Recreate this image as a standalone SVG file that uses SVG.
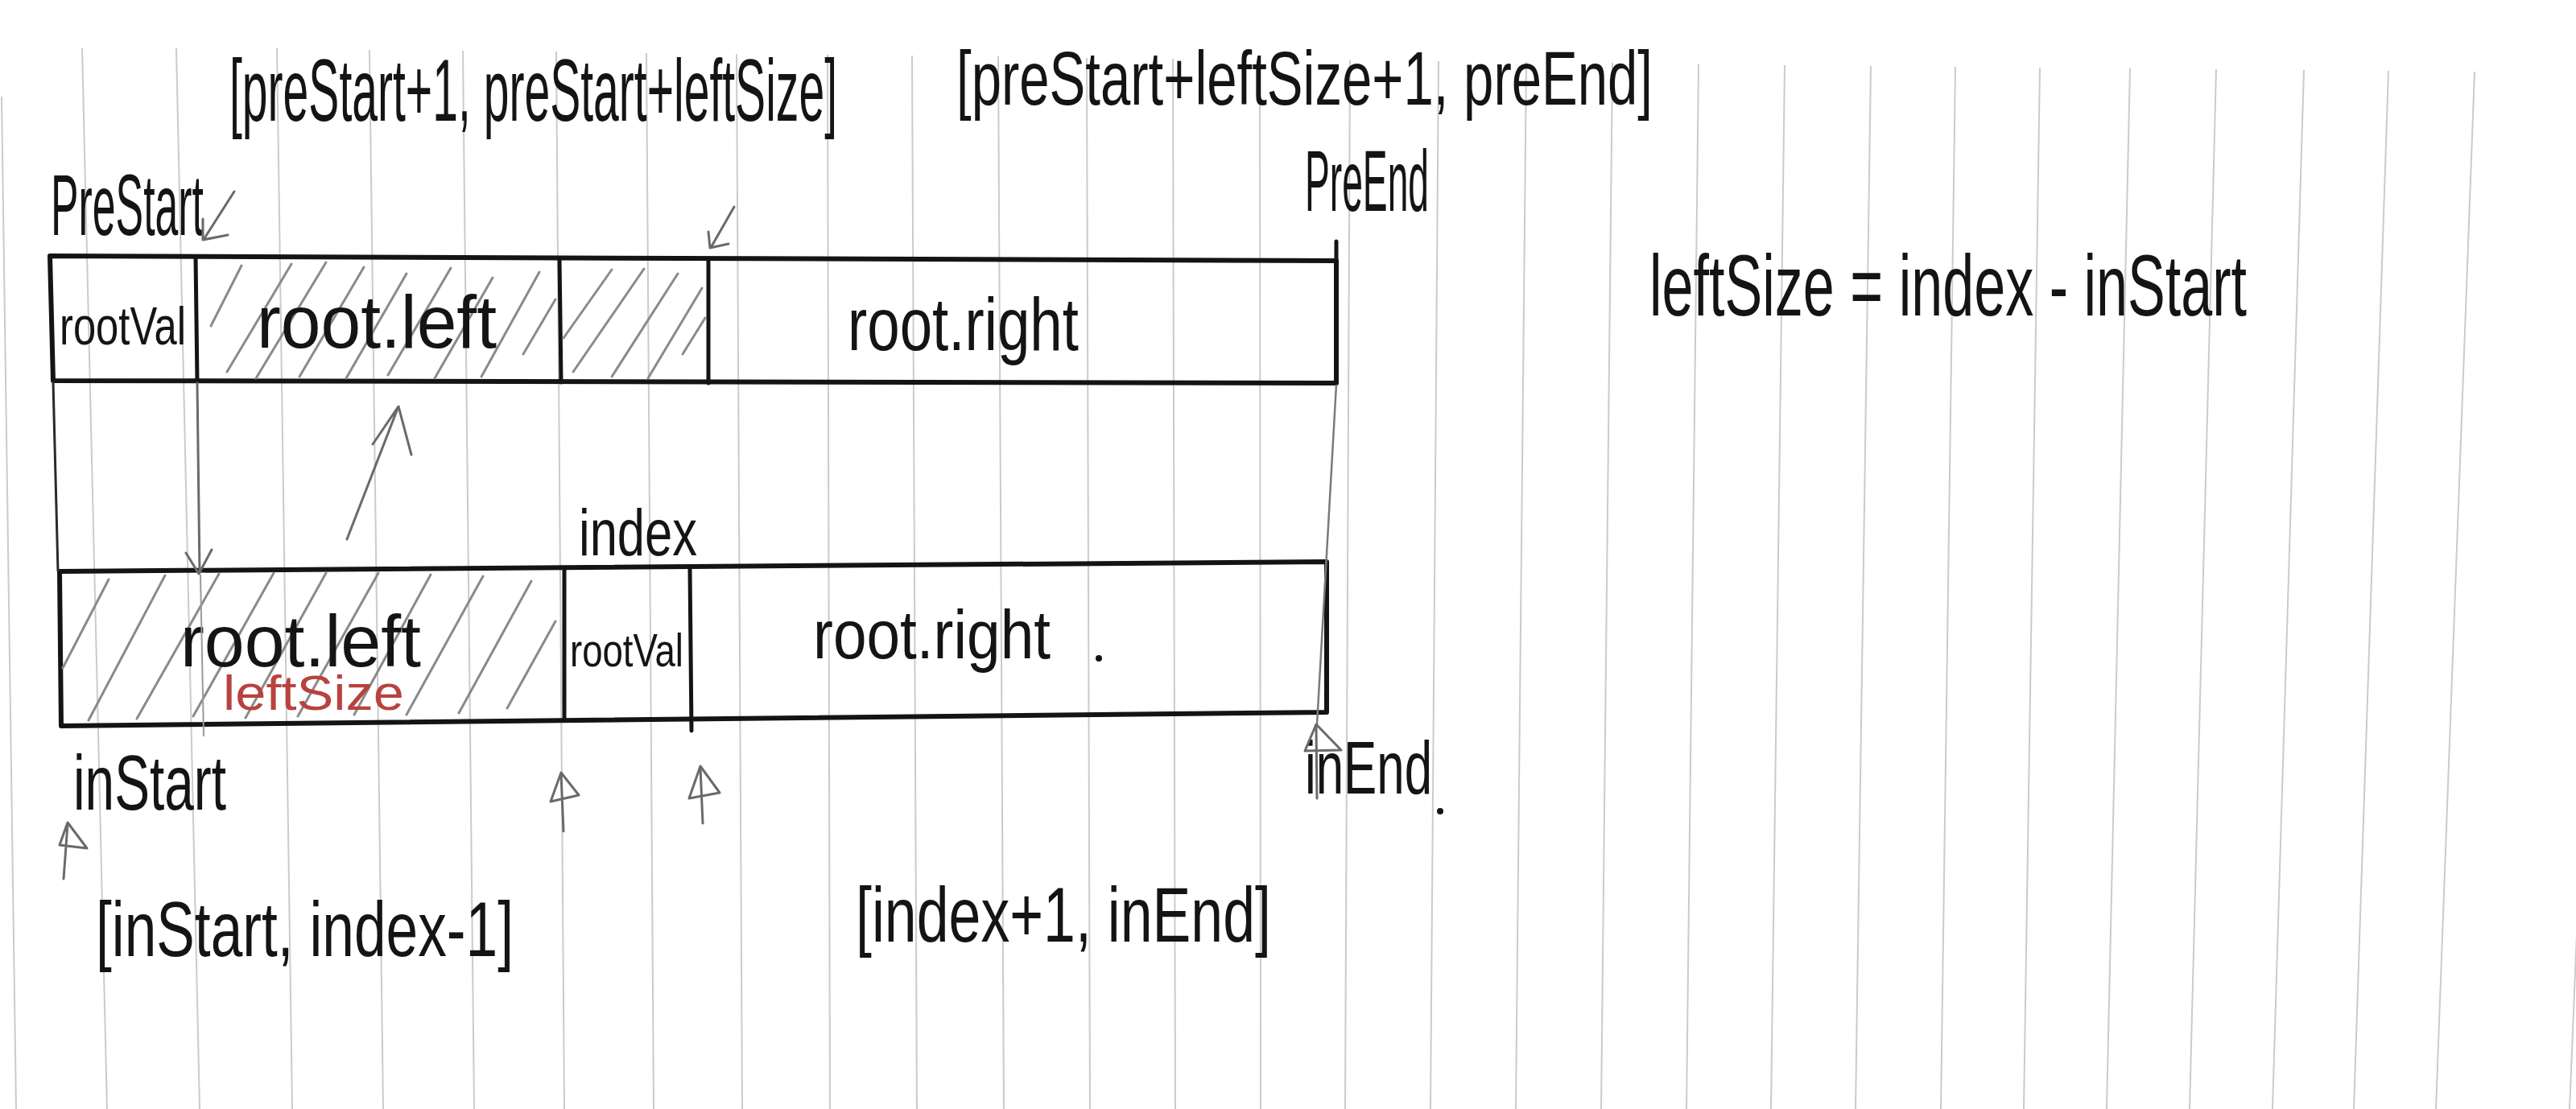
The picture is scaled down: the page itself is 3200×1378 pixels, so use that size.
<svg xmlns="http://www.w3.org/2000/svg" width="3200" height="1378" viewBox="0 0 3200 1378">
<style>
.paper{stroke:#cbcbcb;stroke-width:2;fill:none}
.box{fill:none;stroke:#141414;stroke-width:6;stroke-linejoin:round;stroke-linecap:round}
.div{stroke:#141414;stroke-width:5;stroke-linecap:round}
.hatch{stroke:#8a8a8a;stroke-width:3;stroke-linecap:round;fill:none}
.pencil{stroke:#6a6a6a;stroke-width:3;stroke-linecap:round;stroke-linejoin:round;fill:none}
.ink{fill:#141414;font-family:"Liberation Sans Narrow","Liberation Sans",Arial,sans-serif}
.red{fill:#b8423f;font-family:"Liberation Sans Narrow","Liberation Sans",Arial,sans-serif}
</style>
<rect x="0" y="0" width="3200" height="1378" fill="#ffffff"/>
<g id="paper-lines" class="paper">
<line x1="2" y1="120" x2="20" y2="1378"/>
<line x1="102" y1="60" x2="133" y2="1378"/>
<line x1="219" y1="60" x2="248" y2="1378"/>
<line x1="344" y1="60" x2="363" y2="1378"/>
<line x1="459" y1="62" x2="476" y2="1378"/>
<line x1="575" y1="63" x2="589" y2="1378"/>
<line x1="691" y1="64" x2="701" y2="1378"/>
<line x1="803" y1="66" x2="812" y2="1378"/>
<line x1="915" y1="67" x2="922" y2="1378"/>
<line x1="1028" y1="68" x2="1031" y2="1378"/>
<line x1="1133" y1="69" x2="1139" y2="1378"/>
<line x1="1240" y1="70" x2="1247" y2="1378"/>
<line x1="1350" y1="72" x2="1354" y2="1378"/>
<line x1="1457" y1="73" x2="1460" y2="1378"/>
<line x1="1565" y1="74" x2="1566" y2="1378"/>
<line x1="1677" y1="75" x2="1671" y2="1378"/>
<line x1="1787" y1="76" x2="1777" y2="1378"/>
<line x1="1896" y1="77" x2="1883" y2="1378"/>
<line x1="2003" y1="78" x2="1989" y2="1378"/>
<line x1="2110" y1="80" x2="2095" y2="1378"/>
<line x1="2217" y1="81" x2="2200" y2="1378"/>
<line x1="2324" y1="82" x2="2305" y2="1378"/>
<line x1="2429" y1="83" x2="2411" y2="1378"/>
<line x1="2534" y1="84" x2="2514" y2="1378"/>
<line x1="2646" y1="85" x2="2617" y2="1378"/>
<line x1="2753" y1="86" x2="2720" y2="1378"/>
<line x1="2862" y1="87" x2="2823" y2="1378"/>
<line x1="2967" y1="88" x2="2924" y2="1378"/>
<line x1="3074" y1="89" x2="3026" y2="1378"/>
<line x1="3245" y1="90" x2="3192" y2="1378"/>
</g>

<g id="label-pre-left-range">
<text class="ink" x="285" y="150" font-size="110" textLength="755" lengthAdjust="spacingAndGlyphs">[preStart+1, preStart+leftSize]</text>
</g>
<g id="label-pre-right-range">
<text class="ink" x="1188" y="130" font-size="95" textLength="865" lengthAdjust="spacingAndGlyphs">[preStart+leftSize+1, preEnd]</text>
</g>
<g id="label-prestart">
<text class="ink" x="63" y="292" font-size="108" textLength="190" lengthAdjust="spacingAndGlyphs">PreStart</text>
</g>
<g id="label-preend">
<text class="ink" x="1621" y="262" font-size="108" textLength="154" lengthAdjust="spacingAndGlyphs">PreEnd</text>
</g>

<g id="preorder-array">
<path class="box" d="M62 318 L1660 324 L1660 476 L66 473 Z"/>
<line class="div" x1="1660" y1="300" x2="1660" y2="324"/>
<line class="div" x1="243" y1="319" x2="245" y2="474"/>
<line class="div" x1="695" y1="321" x2="697" y2="475"/>
<line class="div" x1="880" y1="322" x2="880" y2="476"/>
<g class="hatch">
<line x1="262" y1="405" x2="300" y2="330"/>
<line x1="282" y1="462" x2="362" y2="328"/>
<line x1="318" y1="470" x2="405" y2="326"/>
<line x1="372" y1="468" x2="452" y2="332"/>
<line x1="430" y1="470" x2="505" y2="340"/>
<line x1="482" y1="466" x2="560" y2="333"/>
<line x1="540" y1="470" x2="612" y2="345"/>
<line x1="598" y1="468" x2="670" y2="338"/>
<line x1="650" y1="440" x2="690" y2="372"/>
<line x1="700" y1="420" x2="760" y2="335"/>
<line x1="712" y1="462" x2="800" y2="334"/>
<line x1="760" y1="468" x2="842" y2="340"/>
<line x1="805" y1="470" x2="872" y2="358"/>
<line x1="848" y1="440" x2="876" y2="395"/>
</g>
<text class="ink" x="74" y="428" font-size="66" textLength="157" lengthAdjust="spacingAndGlyphs">rootVal</text>
<text class="ink" x="319" y="432" font-size="92" textLength="298" lengthAdjust="spacingAndGlyphs">root.left</text>
<text class="ink" x="1053" y="435" font-size="92" textLength="287" lengthAdjust="spacingAndGlyphs">root.right</text>
</g>

<g id="label-index">
<text class="ink" x="719" y="690" font-size="82" textLength="147" lengthAdjust="spacingAndGlyphs">index</text>
</g>

<g id="inorder-array">
<path class="box" d="M74 710 L1648 698 L1648 885 L76 902 Z"/>
<line class="div" x1="701" y1="708" x2="701" y2="895"/>
<line class="div" x1="857" y1="707" x2="859" y2="908"/>
<g class="hatch">
<line x1="78" y1="830" x2="135" y2="720"/>
<line x1="110" y1="895" x2="205" y2="715"/>
<line x1="170" y1="893" x2="272" y2="713"/>
<line x1="240" y1="890" x2="340" y2="712"/>
<line x1="305" y1="892" x2="405" y2="712"/>
<line x1="370" y1="890" x2="470" y2="712"/>
<line x1="440" y1="888" x2="535" y2="714"/>
<line x1="505" y1="888" x2="600" y2="716"/>
<line x1="570" y1="886" x2="660" y2="722"/>
<line x1="630" y1="880" x2="690" y2="772"/>
</g>
<text class="ink" x="224" y="828" font-size="90" textLength="299" lengthAdjust="spacingAndGlyphs">root.left</text>
<text class="red" x="277" y="882" font-size="62" textLength="225" lengthAdjust="spacingAndGlyphs">leftSize</text>
<text class="ink" x="708" y="828" font-size="58" textLength="141" lengthAdjust="spacingAndGlyphs">rootVal</text>
<text class="ink" x="1010" y="818" font-size="86" textLength="295" lengthAdjust="spacingAndGlyphs">root.right</text>
<circle cx="1365" cy="818" r="4" fill="#141414"/>
</g>

<g id="label-instart">
<text class="ink" x="91" y="1006" font-size="96" textLength="190" lengthAdjust="spacingAndGlyphs">inStart</text>
</g>
<g id="label-inend">
<text class="ink" x="1621" y="986" font-size="92" textLength="158" lengthAdjust="spacingAndGlyphs">inEnd</text>
<circle cx="1789" cy="1008" r="4" fill="#141414"/>
</g>
<g id="label-in-left-range">
<text class="ink" x="119" y="1188" font-size="96" textLength="519" lengthAdjust="spacingAndGlyphs">[inStart, index-1]</text>
</g>
<g id="label-in-right-range">
<text class="ink" x="1063" y="1170" font-size="96" textLength="516" lengthAdjust="spacingAndGlyphs">[index+1, inEnd]</text>
</g>
<g id="label-formula">
<text class="ink" x="2049" y="392" font-size="108" textLength="742" lengthAdjust="spacingAndGlyphs">leftSize = index - inStart</text>
</g>

<g id="connectors">
<line x1="66" y1="474" x2="72" y2="710" stroke="#2a2a2a" stroke-width="3"/>
<path class="pencil" d="M245 476 L248 712 M231 687 L247 713 L263 683"/>
<line x1="249" y1="714" x2="253" y2="915" stroke="#9a9a9a" stroke-width="2"/>
<path class="pencil" d="M431 670 L495 505 M463 552 L495 505 L511 565"/>
<line x1="1660" y1="478" x2="1636" y2="900" stroke="#7a7a7a" stroke-width="2.5"/>
<path class="pencil" d="M291 238 L254 296 M252 272 L252 298 L283 292" stroke="#333"/>
<path class="pencil" d="M912 257 L884 306 M880 288 L882 308 L905 303" stroke="#333"/>
<path class="pencil" d="M79 1092 L84 1024 M84 1022 L74 1050 L108 1054 Z"/>
<path class="pencil" d="M700 1033 L697 962 M697 960 L684 996 L719 988 Z"/>
<path class="pencil" d="M873 1023 L870 954 M870 952 L856 992 L894 985 Z"/>
<path class="pencil" d="M1636 992 L1635 902 M1635 900 L1621 933 L1666 932 Z"/>
</g>
</svg>
